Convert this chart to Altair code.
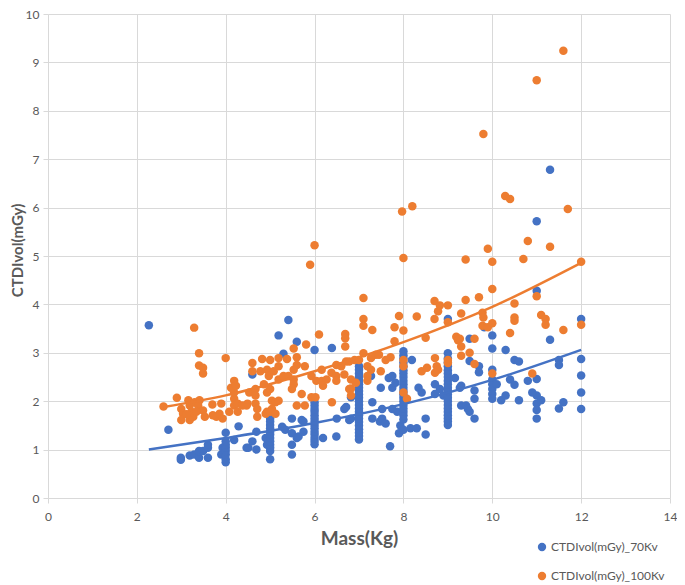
import altair as alt
import pandas as pd

series_names = ["CTDIvol(mGy)_70Kv", "CTDIvol(mGy)_100Kv"]
series_colors = ["#4472C4", "#ED7D31"]

# (Mass kg, CTDIvol mGy)
blue_points = [
    (2.27, 3.57), (2.71, 1.41),
    (2.99, 0.83), (2.99, 0.79), (3.19, 0.88), (3.29, 0.90), (3.4, 0.83), (3.4, 0.97),
    (3.49, 0.97), (3.6, 1.04), (3.6, 0.83), (3.6, 1.1), (3.9, 0.9), (3.93, 1.04),
    (4.0, 0.74), (4.0, 0.8), (4.0, 0.9), (4.0, 0.97), (4.0, 1.04), (4.0, 1.1), (4.0, 1.17), (4.0, 1.35),
    (4.19, 1.2), (4.29, 1.48), (4.47, 1.04), (4.51, 1.04), (4.6, 1.17), (4.69, 1.0), (4.69, 1.37),
    (4.6, 2.55), (4.9, 1.24), (4.93, 1.1),
    (5.0, 0.8), (5.0, 0.97), (5.0, 1.04), (5.0, 1.1), (5.0, 1.17), (5.0, 1.24), (5.0, 1.31),
    (5.0, 1.37), (5.0, 1.44), (5.0, 1.51), (5.0, 1.58), (5.0, 1.64), (5.0, 1.71),
    (5.19, 3.36), (5.3, 2.98), (5.41, 3.68), (5.6, 3.23), (5.27, 1.47), (5.34, 1.41), (5.49, 1.64),
    (5.49, 1.34), (5.49, 1.1), (5.49, 0.9), (5.6, 1.24), (5.64, 1.27), (5.71, 1.61), (5.75, 1.37),
    (5.75, 1.58),
    (6.0, 3.06), (6.0, 1.11), (6.0, 1.18), (6.0, 1.24), (6.0, 1.31), (6.0, 1.37), (6.0, 1.44),
    (6.0, 1.51), (6.0, 1.58), (6.0, 1.64), (6.0, 1.71), (6.0, 1.78), (6.0, 1.84), (6.0, 1.91), (6.0, 1.98),
    (6.19, 1.24), (6.39, 3.1), (6.49, 1.27), (6.5, 1.64), (6.67, 1.84), (6.71, 1.88), (6.78, 1.61),
    (6.82, 2.08), (6.82, 1.64),
    (7.0, 1.21), (7.0, 1.28), (7.0, 1.35), (7.0, 1.42), (7.0, 1.5), (7.0, 1.57), (7.0, 1.64),
    (7.0, 1.71), (7.0, 1.78), (7.0, 1.85), (7.0, 1.92), (7.0, 2.0), (7.0, 2.07), (7.0, 2.14),
    (7.0, 2.21), (7.0, 2.28), (7.0, 2.35), (7.0, 2.42), (7.0, 2.5), (7.0, 2.57), (7.0, 2.65), (7.0, 2.72),
    (7.27, 2.52), (7.3, 1.98), (7.3, 1.64), (7.47, 1.58), (7.49, 2.28), (7.52, 1.64), (7.52, 1.84),
    (7.6, 1.54), (7.67, 2.48), (7.75, 2.52), (7.75, 2.28), (7.82, 2.38), (7.7, 1.07), (7.75, 1.84),
    (7.86, 1.78), (7.9, 1.34), (7.93, 1.5),
    (8.0, 1.41), (8.0, 1.62), (8.0, 1.71), (8.0, 1.78), (8.0, 1.85), (8.0, 1.92), (8.0, 2.0),
    (8.0, 2.07), (8.0, 2.14), (8.0, 2.21), (8.0, 2.28), (8.0, 2.35), (8.0, 2.42), (8.0, 2.5),
    (8.0, 2.57), (8.0, 2.64), (8.0, 2.72), (8.0, 2.8), (8.0, 2.88), (8.0, 2.95), (8.0, 3.03),
    (8.19, 2.85), (8.16, 1.44), (8.3, 1.44), (8.34, 2.28), (8.41, 2.18), (8.5, 1.64), (8.5, 1.31),
    (8.71, 2.35), (8.71, 2.15), (8.82, 2.25), (8.9, 2.12),
    (9.0, 1.51), (9.0, 1.58), (9.0, 1.64), (9.0, 1.71), (9.0, 1.78), (9.0, 1.85), (9.0, 1.92),
    (9.0, 2.0), (9.0, 2.07), (9.0, 2.14), (9.0, 2.21), (9.0, 2.28), (9.0, 2.35), (9.0, 2.42),
    (9.0, 2.5), (9.0, 2.57), (9.0, 2.64), (9.0, 2.72), (9.0, 2.8), (9.0, 2.88), (9.0, 2.99), (9.0, 3.7),
    (9.16, 2.48), (9.3, 2.32), (9.3, 1.91), (9.27, 2.28), (9.41, 1.91), (9.45, 1.84), (9.49, 1.78),
    (9.6, 1.64), (9.49, 3.29), (9.49, 2.83), (9.7, 2.72), (9.7, 2.6), (9.6, 2.22), (9.6, 2.05),
    (9.82, 3.53),
    (10.0, 3.36), (10.0, 3.09), (10.0, 2.65), (10.0, 2.45), (10.0, 2.35), (10.0, 2.25), (10.0, 2.15),
    (10.0, 2.05), (10.1, 2.35), (10.3, 3.06), (10.2, 2.02), (10.3, 2.12), (10.4, 2.45), (10.5, 2.34),
    (10.5, 2.85), (10.6, 2.82), (10.6, 2.02), (10.8, 2.42),
    (11.0, 5.72), (11.0, 4.28), (11.0, 2.46), (11.0, 2.12), (11.0, 1.95), (11.0, 1.82), (11.0, 1.64),
    (10.9, 2.18), (11.1, 2.02), (11.3, 6.78), (11.3, 3.27), (11.5, 2.85), (11.5, 2.75), (11.5, 1.85),
    (11.6, 1.98),
    (12.0, 3.7), (12.0, 2.87), (12.0, 2.53), (12.0, 2.18), (12.0, 1.84),
]

orange_points = [
    (2.6, 1.89), (2.9, 2.07), (3.0, 1.84), (3.04, 1.74), (3.0, 1.61), (3.16, 2.02), (3.19, 1.91),
    (3.23, 1.78), (3.27, 1.68), (3.19, 1.61), (3.12, 1.73), (3.3, 1.98), (3.41, 2.02), (3.38, 1.91),
    (3.49, 1.81), (3.53, 1.68), (3.34, 1.78),
    (3.29, 3.52), (3.4, 2.99), (3.4, 2.74), (3.49, 2.69), (3.49, 2.57),
    (3.7, 1.93), (3.79, 1.68), (3.86, 1.74), (3.9, 1.95), (3.71, 1.71), (3.93, 1.64),
    (4.0, 2.89), (4.08, 1.78), (4.19, 1.91), (4.19, 2.05), (4.19, 2.18), (4.19, 2.42), (4.12, 2.28),
    (4.23, 2.32), (4.27, 1.95), (4.27, 1.78), (4.38, 1.91), (4.47, 1.91),
    (4.53, 2.18), (4.67, 2.25), (4.67, 2.12), (4.49, 1.95), (4.67, 1.95), (4.71, 1.84), (4.71, 1.68),
    (4.6, 2.79), (4.6, 2.62), (4.78, 2.62), (4.82, 2.87), (4.93, 2.65), (4.97, 2.52), (5.0, 2.85),
    (5.08, 2.62),
    (4.86, 2.35), (4.93, 2.18), (5.04, 2.01), (5.0, 2.25), (5.12, 1.98), (5.19, 2.01), (5.04, 1.84),
    (4.93, 1.78), (4.9, 1.74), (5.0, 1.78), (5.12, 1.74),
    (5.19, 2.89), (5.38, 2.87), (5.6, 2.91), (5.6, 2.75), (5.19, 2.72), (5.19, 2.45), (5.3, 2.52),
    (5.41, 2.52), (5.53, 2.65), (5.53, 2.45), (5.53, 2.35), (5.49, 2.25), (5.53, 3.09),
    (5.71, 2.15), (5.6, 1.91), (5.78, 1.91), (5.78, 2.72), (5.81, 3.17), (5.93, 2.08), (6.02, 2.08),
    (5.93, 2.52), (6.04, 2.42),
    (5.9, 4.82), (6.0, 5.22), (6.1, 3.38),
    (6.16, 2.65), (6.16, 2.42), (6.27, 2.45), (6.19, 2.32), (6.38, 2.59), (6.49, 2.52), (6.49, 2.75),
    (6.6, 2.72), (6.71, 2.82), (6.78, 2.82), (6.9, 2.85), (7.0, 2.85), (6.49, 2.42), (6.82, 2.45),
    (6.82, 2.26), (6.39, 1.98), (6.67, 2.55), (6.78, 2.25), (6.82, 2.12),
    (6.69, 3.39), (6.69, 3.13), (6.69, 3.3),
    (6.93, 2.38), (7.1, 4.13), (7.1, 3.7), (7.1, 3.56), (7.3, 3.47), (7.1, 2.99), (7.27, 2.89),
    (7.38, 2.96), (7.45, 2.96), (7.6, 2.85), (7.71, 2.91), (7.19, 2.72), (7.27, 2.65), (7.19, 2.52),
    (7.19, 2.42), (7.49, 2.62),
    (7.9, 3.76), (7.8, 3.53), (8.0, 3.46), (8.3, 3.75), (7.8, 3.24), (8.5, 3.31),
    (7.97, 5.92), (8.2, 6.03), (8.0, 4.96),
    (8.0, 2.85), (8.0, 2.72), (8.0, 2.18), (8.08, 2.05), (8.41, 2.62), (8.53, 2.69), (8.71, 2.89),
    (8.75, 2.72), (8.78, 2.65), (8.71, 2.59), (9.0, 2.85), (9.0, 2.79),
    (8.7, 4.07), (8.82, 3.98), (8.78, 3.86), (8.7, 3.7), (9.0, 3.98), (9.0, 3.63), (9.3, 3.81),
    (9.19, 3.33), (9.23, 3.26), (9.3, 3.13), (9.27, 3.29), (9.3, 2.94),
    (9.4, 4.93), (9.4, 4.09), (9.7, 4.15), (9.78, 3.83), (9.8, 3.73), (9.78, 3.56), (9.9, 3.53),
    (9.49, 3.0), (9.6, 3.29), (9.6, 2.77),
    (9.8, 7.52), (9.9, 5.15), (10.0, 4.88), (10.0, 4.32), (10.0, 3.61), (10.0, 2.57),
    (10.29, 6.24), (10.4, 6.18), (10.4, 3.41), (10.5, 4.02), (10.5, 3.73), (10.5, 3.66),
    (10.7, 4.94), (10.8, 5.31),
    (11.0, 8.63), (11.0, 4.17), (10.9, 2.57), (11.1, 3.78), (11.2, 3.7), (11.2, 3.58), (11.3, 5.19),
    (11.6, 9.24), (11.7, 5.97), (11.6, 3.47), (12.0, 4.88), (12.0, 3.58),
]

# Trend lines, points
blue_trend = [(2.27, 1.0), (4.0, 1.24), (6.0, 1.55), (8.0, 1.94), (10.0, 2.44), (12.0, 3.06)]
orange_trend = [(2.6, 1.88), (4.0, 2.12), (6.0, 2.62), (8.0, 3.22), (10.0, 3.95), (12.0, 4.86)]

x_ticks = [0, 2, 4, 6, 8, 10, 12, 14]
y_ticks = [0, 1, 2, 3, 4, 5, 6, 7, 8, 9, 10]

pts = pd.DataFrame(
    [{"mass": x, "ctdi": y, "series": series_names[0]} for x, y in blue_points]
    + [{"mass": x, "ctdi": y, "series": series_names[1]} for x, y in orange_points]
)
pts["order"] = (pts["series"] == series_names[1]).astype(int)
bt = pd.DataFrame(blue_trend, columns=["mass", "ctdi"])
ot = pd.DataFrame(orange_trend, columns=["mass", "ctdi"])

FONT = "Lato"
GRAY = "#595959"

xs = alt.Scale(domain=[0, 14], nice=False, zero=True)
ys = alt.Scale(domain=[0, 10], nice=False, zero=True)

x_axis = alt.Axis(values=x_ticks, title="Mass(Kg)", grid=True, gridColor="#d9d9d9",
                  domain=False, ticks=True, tickColor="#d9d9d9", tickSize=5,
                  labelFont=FONT, labelFontSize=12, labelColor=GRAY, labelPadding=8,
                  titleFont=FONT, titleFontSize=19, titleFontWeight="bold", titleColor=GRAY,
                  titlePadding=7, labelFlush=False)
y_axis = alt.Axis(values=y_ticks, title="CTDIvol(mGy)", grid=True, gridColor="#d9d9d9",
                  domain=False, ticks=True, tickColor="#d9d9d9", tickSize=5,
                  labelFont=FONT, labelFontSize=12, labelColor=GRAY, labelPadding=4,
                  titleFont=FONT, titleFontSize=15, titleFontWeight="bold", titleColor=GRAY,
                  titleX=-23, titleY=236, titleBaseline="bottom", titleAngle=270,
                  labelFlush=False)

points = alt.Chart(pts).mark_circle(size=72, opacity=1).encode(
    x=alt.X("mass:Q", scale=xs, axis=x_axis),
    y=alt.Y("ctdi:Q", scale=ys, axis=y_axis),
    color=alt.Color("series:N",
                    scale=alt.Scale(domain=series_names, range=series_colors),
                    legend=alt.Legend(title=None, orient="none", legendX=488, legendY=527,
                                      symbolType="circle", symbolSize=70,
                                      labelFont=FONT, labelFontSize=12, labelColor=GRAY,
                                      rowPadding=17, labelOffset=3)),
    order=alt.Order("order:Q"),
)

blue_line = alt.Chart(bt).mark_line(color=series_colors[0], strokeWidth=2.5,
                                    interpolate="monotone").encode(
    x=alt.X("mass:Q", scale=xs), y=alt.Y("ctdi:Q", scale=ys))
orange_line = alt.Chart(ot).mark_line(color=series_colors[1], strokeWidth=2.5,
                                      interpolate="monotone").encode(
    x=alt.X("mass:Q", scale=xs), y=alt.Y("ctdi:Q", scale=ys))

chart = alt.layer(points, blue_line, orange_line).properties(
    width=622, height=484,
    autosize=alt.AutoSizeParams(type="none"),
    padding={"left": 40, "top": 6, "right": 7, "bottom": 87},
).configure_view(stroke=None)

chart.save("out.html", embed_options={"renderer": "svg", "actions": False})
